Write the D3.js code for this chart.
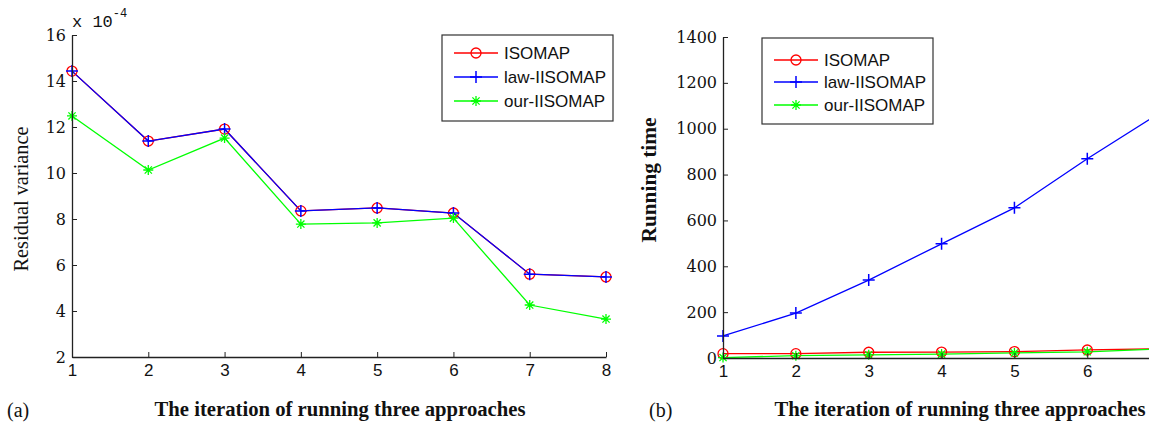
<!DOCTYPE html>
<html>
<head>
<meta charset="utf-8">
<script src="https://cdn.jsdelivr.net/npm/d3@7"></script>
<style>
  body { margin: 0; background: #fff; }
  svg { display: block; }
  .ytick { font-family: "DejaVu Serif", serif; font-size: 16px; fill: #111; }
  .xtick { font-family: "Liberation Sans", Arial, sans-serif; font-size: 17px; fill: #111; }
  .legend text { font-family: "Liberation Sans", Arial, sans-serif; font-size: 17px; fill: #111; }
  .title { font-family: "Liberation Serif", "Times New Roman", serif; font-size: 20px; fill: #111; }
</style>
</head>
<body>
<div class="chart"></div>
<script>
// iterations on the x axis
var iterations = [1, 2, 3, 4, 5, 6, 7, 8];

// (a) residual variance, units of 1e-4
var residualIsomap = [14.43, 11.39, 11.91, 8.35, 8.48, 8.26, 5.60, 5.48];
var residualLaw    = [14.43, 11.39, 11.91, 8.35, 8.48, 8.26, 5.60, 5.48];
var residualOur    = [12.48, 10.13, 11.52, 7.78, 7.83, 8.04, 4.26, 3.65];

// (b) running time
var timeIsomap = [19, 19, 25, 26, 28, 35, 40, 45];
var timeLaw    = [96, 196, 340, 498, 655, 869, 1070, 1290];
var timeOur    = [2, 10, 14, 17, 22, 27, 40, 48];

var seriesNames = ["ISOMAP", "law-IISOMAP", "our-IISOMAP"];
var seriesColors = ["#ff0000", "#0000ff", "#00ff00"];
var seriesMarkers = ["circle", "plus", "star"];

var residualTicks = [2, 4, 6, 8, 10, 12, 14, 16];
var timeTicks = [0, 200, 400, 600, 800, 1000, 1200, 1400];

var svgWidth = 1149;
var svgHeight = 425;

var svg = d3.select(".chart")
    .append("svg")
    .attr("width", svgWidth)
    .attr("height", svgHeight);

// draw one marker of the given kind at (x, y)
function drawMarker(g, kind, x, y, color) {
    if (kind === "circle") {
        g.append("circle")
            .attr("cx", x).attr("cy", y).attr("r", 5)
            .attr("fill", "none").attr("stroke", color).attr("stroke-width", 1.3);
    } else if (kind === "plus") {
        g.append("path")
            .attr("d", `M${x - 6},${y}H${x + 6}M${x},${y - 6}V${y + 6}`)
            .attr("stroke", color).attr("stroke-width", 1.5).attr("fill", "none");
    } else {
        var s = 5, d = 3.6;
        g.append("path")
            .attr("d", `M${x - s},${y}H${x + s}M${x},${y - s}V${y + s}` +
                `M${x - d},${y - d}L${x + d},${y + d}M${x - d},${y + d}L${x + d},${y - d}`)
            .attr("stroke", color).attr("stroke-width", 1.3).attr("fill", "none");
    }
}

function drawPanel(opts) {
    var x = d3.scaleLinear().domain([1, 8]).range(opts.xRange);
    var y = d3.scaleLinear().domain(opts.yDomain).range(opts.yRange);
    var g = svg.append("g");

    // plot lines + markers
    var line = d3.line()
        .x((d, i) => x(iterations[i]))
        .y(d => y(d));

    opts.series.forEach(function (vals, k) {
        g.append("path")
            .datum(vals)
            .attr("fill", "none")
            .attr("stroke", seriesColors[k])
            .attr("stroke-width", 1.3)
            .attr("d", line);
    });
    opts.series.forEach(function (vals, k) {
        vals.forEach(function (v, i) {
            drawMarker(g, seriesMarkers[k], x(iterations[i]), y(v), seriesColors[k]);
        });
    });

    // only ticks that fall inside the picture
    var xTicks = iterations.filter(d => x(d) < svgWidth - 10);

    // axes (ticks point inward like matlab)
    var bottomAxis = d3.axisBottom(x).tickValues(xTicks).tickSizeInner(-5).tickSizeOuter(0).tickFormat(d3.format("d"));
    var leftAxis = d3.axisLeft(y).tickValues(opts.yTicks).tickSizeInner(-5).tickSizeOuter(0).tickFormat(d3.format("d"));

    var bx = g.append("g")
        .attr("transform", `translate(0, ${opts.yRange[0]})`)
        .call(bottomAxis);
    bx.select(".domain").attr("stroke", "#222").attr("stroke-width", 1.3);
    bx.selectAll(".tick line").attr("stroke", "#222");
    bx.selectAll("text").attr("class", "xtick").attr("dy", "0.95em").attr("y", 3);

    var ly = g.append("g")
        .attr("transform", `translate(${opts.xRange[0]}, 0)`)
        .call(leftAxis);
    ly.select(".domain").attr("stroke", "#222").attr("stroke-width", 1.3);
    ly.selectAll(".tick line").attr("stroke", "#222");
    ly.selectAll("text").attr("class", "ytick").attr("x", -6);

    // legend
    var lg = g.append("g").attr("class", "legend");
    var b = opts.legendBox;
    lg.append("rect")
        .attr("x", b.x).attr("y", b.y).attr("width", b.w).attr("height", b.h)
        .attr("fill", "#fff").attr("stroke", "#333").attr("stroke-width", 1.2);
    seriesNames.forEach(function (name, k) {
        var ly0 = b.rows[k];
        lg.append("line")
            .attr("x1", b.x + 12).attr("x2", b.x + 56)
            .attr("y1", ly0).attr("y2", ly0)
            .attr("stroke", seriesColors[k]).attr("stroke-width", 1.3);
        drawMarker(lg, seriesMarkers[k], b.x + 34, ly0, seriesColors[k]);
        lg.append("text")
            .attr("x", b.x + 62).attr("y", ly0)
            .attr("dy", "0.35em")
            .text(name);
    });

    // axis titles
    g.append("text")
        .attr("class", "title")
        .attr("font-weight", "bold")
        .attr("text-anchor", "middle")
        .attr("x", opts.xTitleX).attr("y", 416)
        .attr("textLength", 371)
        .attr("lengthAdjust", "spacingAndGlyphs")
        .text("The iteration of running three approaches");

    g.append("text")
        .attr("class", "title")
        .attr("text-anchor", "middle")
        .attr("font-size", 18)
        .attr("transform", `translate(${opts.yTitleX}, ${opts.yTitleY}) rotate(-90)`)
        .attr("font-weight", opts.yTitleWeight)
        .attr("textLength", opts.yTitleLen)
        .attr("lengthAdjust", "spacingAndGlyphs")
        .text(opts.yTitle);

    g.append("text")
        .attr("class", "title")
        .attr("font-size", 21)
        .attr("x", opts.tagX).attr("y", 417)
        .text(opts.tag);
}

drawPanel({
    xRange: [72, 606],
    yDomain: [2, 16],
    yRange: [357, 35],
    yTicks: residualTicks,
    series: [residualIsomap, residualLaw, residualOur],
    legendBox: {x: 442, y: 35, w: 171, h: 86, rows: [53, 77, 101]},
    xTitleX: 340,
    yTitle: "Residual variance",
    yTitleX: 28, yTitleY: 199, yTitleWeight: "normal", yTitleLen: 145,
    tag: "(a)", tagX: 7
});

drawPanel({
    xRange: [723, 1233],
    yDomain: [0, 1400],
    yRange: [358, 37],
    yTicks: timeTicks,
    series: [timeIsomap, timeLaw, timeOur],
    legendBox: {x: 762, y: 38, w: 171, h: 86, rows: [60, 82, 105]},
    xTitleX: 960,
    yTitle: "Running time",
    yTitleX: 656, yTitleY: 180, yTitleWeight: "bold", yTitleLen: 125,
    tag: "(b)", tagX: 649
});

// exponent label for panel (a)
var expo = svg.append("text")
    .attr("x", 72).attr("y", 27)
    .attr("font-family", "Liberation Mono, monospace")
    .attr("font-size", 17)
    .attr("fill", "#111");
expo.append("tspan").text("x 10");
expo.append("tspan").attr("dy", -10).attr("font-size", 12).text("-4");
</script>
</body>
</html>
